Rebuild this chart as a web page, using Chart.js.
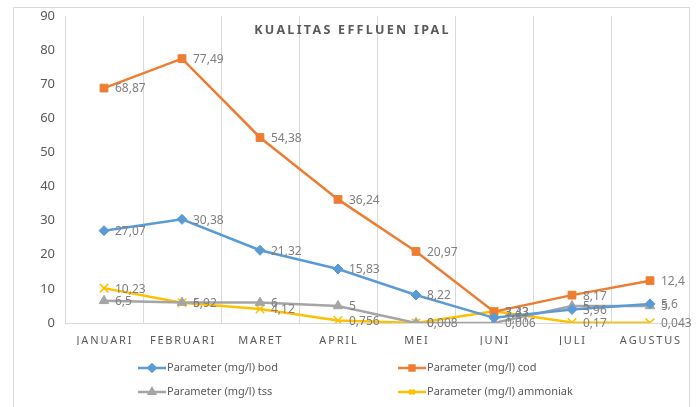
<!DOCTYPE html>
<html>
<head>
<meta charset="utf-8">
<script src="https://cdn.jsdelivr.net/npm/chart.js@4.4.1/dist/chart.umd.min.js"></script>
<style>
  html, body { margin: 0; padding: 0; background: #fff; overflow: hidden; }
  #wrap { position: relative; width: 697px; height: 407px; }
  #frame { position: absolute; left: 13px; top: 7px; width: 677px; height: 420px; border: 1px solid #d9d9d9; box-sizing: border-box; }
  #title { position: absolute; left: 0; width: 697px; top: 21px; text-align: center; font: bold 12.5px "Noto Sans", sans-serif; letter-spacing: 2.3px; color: #595959; padding-left: 4px; }
  canvas { position: absolute; left: 0; top: 0; }
</style>
</head>
<body>
<div id="wrap">
  <div id="frame"></div>
  <canvas id="chart" width="697" height="407"></canvas>
  <div id="title">KUALITAS EFFLUEN IPAL</div>
</div>
<script>
const months = ['JANUARI', 'FEBRUARI', 'MARET', 'APRIL', 'MEI', 'JUNI', 'JULI', 'AGUSTUS'];
const bod = [27.07, 30.38, 21.32, 15.83, 8.22, 1.51, 3.96, 5.6];
const cod = [68.87, 77.49, 54.38, 36.24, 20.97, 3.33, 8.17, 12.4];
const tss = [6.5, 6, 6, 5, 0, 0.006, 5, 5];
const ammoniak = [10.23, 5.92, 4.12, 0.756, 0.008, 3.43, 0.17, 0.043];
const seriesNames = ['Parameter (mg/l) bod', 'Parameter (mg/l) cod', 'Parameter (mg/l) tss', 'Parameter (mg/l) ammoniak'];

function ds(label, data, color, style, radius) {
    return {
        label: label,
        data: data,
        borderColor: color,
        backgroundColor: color,
        borderWidth: 2.5,
        pointStyle: style,
        pointRadius: radius,
        pointHoverRadius: radius,
        pointBorderWidth: style === 'crossRot' ? 1.5 : 1,
        tension: 0
    };
}

// labels next to each point, comma decimals
const valueLabels = {
    id: 'valueLabels',
    afterDatasetsDraw(chart) {
        const ctx = chart.ctx;
        ctx.save();
        ctx.font = '12px "Noto Sans", sans-serif';
        ctx.fillStyle = '#7f7f7f';
        ctx.textAlign = 'left';
        ctx.textBaseline = 'middle';
        chart.data.datasets.forEach((d, i) => {
            chart.getDatasetMeta(i).data.forEach((pt, j) => {
                ctx.fillText(String(d.data[j]).replace('.', ','), pt.x + 11, pt.y + 1);
            });
        });
        ctx.restore();
    }
};

// 2x2 legend under the chart
const gridLegend = {
    id: 'gridLegend',
    afterDraw(chart) {
        const ctx = chart.ctx;
        const cols = [138, 398];
        const rows = [368, 392];
        ctx.save();
        chart.data.datasets.forEach((d, i) => {
            const x = cols[i % 2];
            const y = rows[Math.floor(i / 2)];
            ctx.strokeStyle = d.borderColor;
            ctx.lineWidth = 2.5;
            ctx.beginPath();
            ctx.moveTo(x, y);
            ctx.lineTo(x + 28, y);
            ctx.stroke();
            ctx.fillStyle = d.borderColor;
            Chart.helpers.drawPoint(ctx, {
                pointStyle: d.pointStyle,
                radius: 3.5,
                borderWidth: 1.5,
                rotation: 0
            }, x + 14, y);
            ctx.font = '11px "Noto Sans", sans-serif';
            ctx.fillStyle = '#595959';
            ctx.textBaseline = 'middle';
            ctx.fillText(d.label, x + 29, y);
        });
        ctx.restore();
    }
};

new Chart(document.getElementById('chart').getContext('2d'), {
    type: 'line',
    data: {
        labels: months,
        datasets: [
            ds(seriesNames[0], bod, '#5b9bd5', 'rectRot', 5),
            ds(seriesNames[1], cod, '#ed7d31', 'rect', 5.5),
            ds(seriesNames[2], tss, '#a5a5a5', 'triangle', 5.5),
            ds(seriesNames[3], ammoniak, '#ffc000', 'crossRot', 6)
        ]
    },
    options: {
        responsive: false,
        animation: false,
        layout: { padding: { left: 13, right: 8, top: 16, bottom: 62 } },
        plugins: {
            legend: { display: false },
            tooltip: { enabled: false }
        },
        scales: {
            x: {
                offset: true,
                grid: { offset: true, color: '#d9d9d9', drawTicks: false },
                border: { color: '#d9d9d9' },
                ticks: {
                    padding: 11,
                    color: '#595959',
                    font: { family: 'Noto Sans', size: 11 },
                    maxRotation: 0,
                    callback: function (v) {
                        return this.getLabelForValue(v).split('').join('\u2009');
                    }
                },
                afterFit: s => { s.height = 22; }
            },
            y: {
                min: 0,
                max: 90,
                ticks: {
                    stepSize: 10,
                    padding: 2,
                    color: '#595959',
                    font: { family: 'Noto Sans', size: 13 }
                },
                grid: { display: false },
                border: { display: false },
                afterFit: s => { s.width = 52; }
            }
        }
    },
    plugins: [valueLabels, gridLegend]
});
</script>
</body>
</html>
